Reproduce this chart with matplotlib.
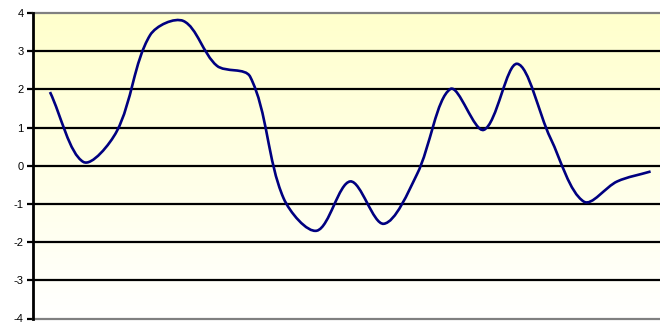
import numpy as np
import matplotlib
matplotlib.use("Agg")
import matplotlib.pyplot as plt
from matplotlib.path import Path
from matplotlib.patches import PathPatch

plt.rcParams['font.family'] = ['Liberation Sans', 'DejaVu Sans']

# Series values, one per category
values = [1.93, 0.10, 0.90, 3.42, 3.79, 2.62, 2.33, -0.85, -1.70, -0.41,
          -1.52, -0.22, 2.01, 0.94, 2.67, 0.72, -0.94, -0.41, -0.15]
y_ticks = [-4, -3, -2, -1, 0, 1, 2, 3, 4]
y_labels = ["-4", "-3", "-2", "-1", "0", "1", "2", "3", "4"]

x = np.arange(len(values), dtype=float)
y = np.asarray(values, dtype=float)

fig = plt.figure(figsize=(6.6, 3.24), dpi=100)
ax = fig.add_axes([33.3 / 660, 5.5 / 324, 634 / 660, 305.5 / 324])
ax.set_xlim(-0.5, len(values) - 0.5)
ax.set_ylim(-4, 4)

# Vertical pale-yellow to white fill behind the plot
grad = np.linspace(0, 1, 256).reshape(-1, 1)
top = np.array([255, 255, 204]) / 255.0
bot = np.array([255, 255, 255]) / 255.0
img = top[None, None, :] * (1 - grad[:, :, None]) + bot[None, None, :] * grad[:, :, None]
ax.imshow(img, extent=[-0.5, len(values) - 0.5, -4, 4], aspect='auto',
          origin='upper', zorder=0)

# Horizontal gridlines
for t in y_ticks[1:-1]:
    ax.axhline(t, color='black', lw=1.6, zorder=1)

# Smoothed line: cubic Bezier segments built in screen space. The tangent
# at each point follows the neighbour chord; its length is split between
# the two adjoining segments in proportion to their lengths.
pts = ax.transData.transform(np.column_stack([x, y]))
n = len(pts)
seglen = np.hypot(*(np.diff(pts, axis=0).T))


def arms(i):
    prev = pts[i - 1] if i > 0 else pts[i]
    nxt = pts[i + 1] if i + 1 < n else pts[i]
    chord = nxt - prev
    d_in = seglen[i - 1] if i > 0 else 0.0
    d_out = seglen[i] if i + 1 < n else 0.0
    tot = d_in + d_out
    if tot == 0:
        return np.zeros(2), np.zeros(2)
    return chord / 3.0 * d_in / tot, chord / 3.0 * d_out / tot


verts = [pts[0]]
codes = [Path.MOVETO]
for i in range(n - 1):
    _, out1 = arms(i)
    in2, _ = arms(i + 1)
    verts += [pts[i] + out1, pts[i + 1] - in2, pts[i + 1]]
    codes += [Path.CURVE4] * 3
verts_data = ax.transData.inverted().transform(np.array(verts))
patch = PathPatch(Path(verts_data, codes), facecolor='none', edgecolor='#000080',
                  lw=1.9, zorder=3, capstyle='butt', joinstyle='round')
ax.add_patch(patch)

# Frame
for side in ('top', 'bottom'):
    ax.spines[side].set_color('#808080')
    ax.spines[side].set_linewidth(1.6)
ax.spines['right'].set_visible(False)
ax.spines['left'].set_color('black')
ax.spines['left'].set_linewidth(2.0)
ax.spines['left'].set_zorder(4)

ax.set_xticks([])
ax.set_yticks(y_ticks)
ax.set_yticklabels(y_labels)
ax.tick_params(axis='y', direction='out', length=4, width=1.6, color='black',
               labelsize=8, pad=3, labelcolor='black')

fig.savefig("out.png", dpi=100)
